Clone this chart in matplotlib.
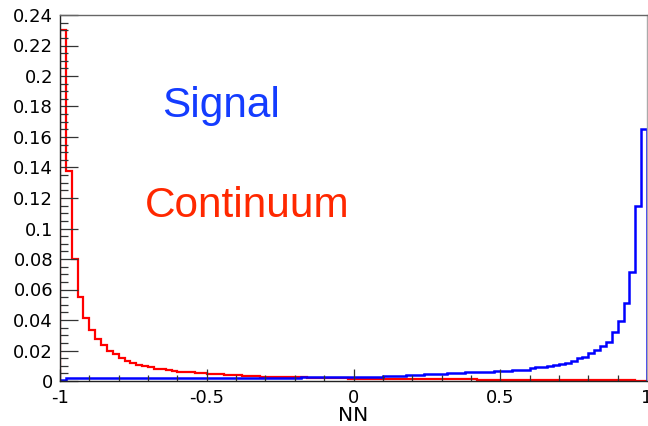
import numpy as np
import matplotlib
matplotlib.use("Agg")
import matplotlib.pyplot as plt
from matplotlib.ticker import MultipleLocator, FuncFormatter

# NN output histograms, 100 bins on [-1, 1]
bin_edges = np.linspace(-1.0, 1.0, 101)

continuum = [
    0.230, 0.138, 0.080, 0.055, 0.041, 0.0335, 0.0274, 0.0236, 0.0197, 0.0175,
    0.0149, 0.0131, 0.0120, 0.0105, 0.0098, 0.0090, 0.0081, 0.0077, 0.0072, 0.0066,
    0.0062, 0.0060, 0.0056, 0.0053, 0.0050, 0.0048, 0.0045, 0.0043, 0.0040, 0.0039,
    0.0037, 0.0035, 0.0033, 0.0031, 0.0029, 0.0028, 0.0027, 0.0026, 0.0025, 0.0024,
    0.0023, 0.0023, 0.0022, 0.0022, 0.0021, 0.0020, 0.0019, 0.0018, 0.0017, 0.0016,
    0.0015, 0.0015, 0.0014, 0.0014, 0.0013, 0.0013, 0.0012, 0.0012, 0.0012, 0.0011,
    0.0011, 0.0011, 0.0011, 0.0010, 0.0010, 0.0010, 0.0010, 0.0010, 0.0010, 0.0010,
    0.0010, 0.0009, 0.0009, 0.0009, 0.0009, 0.0009, 0.0009, 0.0009, 0.0009, 0.0009,
    0.0009, 0.0008, 0.0008, 0.0008, 0.0008, 0.0008, 0.0008, 0.0008, 0.0008, 0.0008,
    0.0007, 0.0007, 0.0007, 0.0007, 0.0007, 0.0007, 0.0006, 0.0005, 0.0003, 0.0001,
]

signal = [
    0.0008, 0.0018, 0.0018, 0.0018, 0.0018, 0.0018, 0.0018, 0.0018, 0.0018, 0.0018,
    0.0018, 0.0018, 0.0018, 0.0018, 0.0018, 0.0018, 0.0018, 0.0018, 0.0018, 0.0018,
    0.0018, 0.0019, 0.0019, 0.0019, 0.0019, 0.0019, 0.0019, 0.0019, 0.0019, 0.0020,
    0.0020, 0.0020, 0.0020, 0.0020, 0.0021, 0.0021, 0.0021, 0.0021, 0.0022, 0.0022,
    0.0022, 0.0023, 0.0023, 0.0023, 0.0024, 0.0024, 0.0024, 0.0025, 0.0025, 0.0026,
    0.0026, 0.0027, 0.0027, 0.0028, 0.0029, 0.0030, 0.0031, 0.0033, 0.0035, 0.0037,
    0.0040, 0.0041, 0.0043, 0.0045, 0.0047, 0.0048, 0.0050, 0.0052, 0.0054, 0.0056,
    0.0058, 0.0060, 0.0061, 0.0062, 0.0064, 0.0065, 0.0067, 0.0069, 0.0072, 0.0075,
    0.0083, 0.0090, 0.0094, 0.0098, 0.0102, 0.0109, 0.0120, 0.0133, 0.0150, 0.0158,
    0.0181, 0.0203, 0.0230, 0.0258, 0.0323, 0.0395, 0.0513, 0.0717, 0.1150, 0.1650,
]

x_ticks = [-1, -0.5, 0, 0.5, 1]
x_title = "NN"
labels = {"Signal": (-0.653, 0.1733), "Continuum": (-0.712, 0.1077)}

line_red = "#ff0000"
line_blue = "#0000ff"
text_red = "#ff2800"
text_blue = "#143cff"

fig = plt.figure(figsize=(6.48, 4.26), dpi=100)
ax = fig.add_axes([60 / 648, 45 / 426, 587 / 648, 366 / 426])

ax.stairs(continuum, bin_edges, color=line_red, linewidth=1.6, baseline=0)
ax.stairs(signal, bin_edges, color=line_blue, linewidth=1.8, baseline=0)

ax.set_xlim(-1, 1)
ax.set_ylim(0, 0.24)

ax.set_xticks(x_ticks)
ax.xaxis.set_minor_locator(MultipleLocator(0.1))
ax.yaxis.set_major_locator(MultipleLocator(0.02))
ax.yaxis.set_minor_locator(MultipleLocator(0.005))
fmt = FuncFormatter(lambda v, p: "%g" % round(v, 4))
ax.xaxis.set_major_formatter(fmt)
ax.yaxis.set_major_formatter(fmt)

tick_font = "DejaVu Sans"
ax.tick_params(axis="y", which="major", direction="in", length=13, width=0.9,
               color="#333333", pad=5, labelsize=13)
ax.tick_params(axis="y", which="minor", direction="in", length=6, width=0.9,
               color="#333333")
ax.tick_params(axis="x", which="major", direction="in", length=9, width=0.9,
               color="#333333", pad=6, labelsize=13)
ax.tick_params(axis="x", which="minor", direction="in", length=4.5, width=0.9,
               color="#333333")
for lab in ax.get_xticklabels() + ax.get_yticklabels():
    lab.set_fontfamily(tick_font)

ax.set_xlabel(x_title, fontsize=14.5, family=tick_font, labelpad=0)
ax.xaxis.set_label_coords(0.5, -0.095)
ax.xaxis.label.set_verticalalignment("center")

ax.spines["left"].set_color("#222222")
ax.spines["bottom"].set_color("#222222")
ax.spines["top"].set_color("#666666")
ax.spines["right"].set_color("#aaaaaa")
for s in ax.spines.values():
    s.set_linewidth(1.0)

ax.text(*labels["Signal"], "Signal", color=text_blue, fontsize=30.5,
        family="Liberation Sans", va="baseline", ha="left")
ax.text(*labels["Continuum"], "Continuum", color=text_red, fontsize=30.5,
        family="Liberation Sans", va="baseline", ha="left")

fig.savefig("out.png", dpi=100)
